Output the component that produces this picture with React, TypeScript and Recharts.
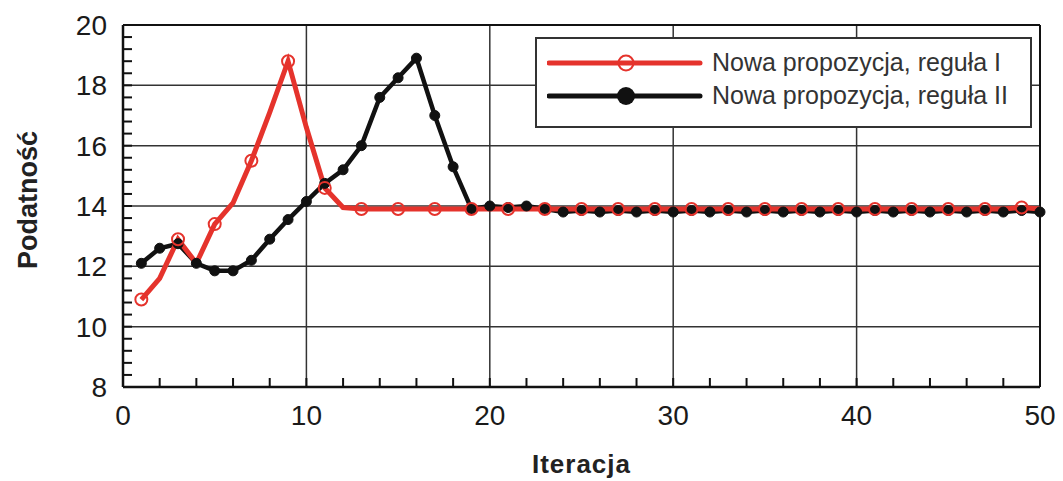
import { LineChart, Line, XAxis, YAxis, ReferenceLine, Legend } from 'recharts';

const iterations = [
  1, 2, 3, 4, 5, 6, 7, 8, 9, 10, 11, 12, 13, 14, 15, 16, 17, 18, 19, 20, 21, 22, 23, 24, 25,
  26, 27, 28, 29, 30, 31, 32, 33, 34, 35, 36, 37, 38, 39, 40, 41, 42, 43, 44, 45, 46, 47, 48, 49, 50,
];

const ruleOne = [
  10.9, 11.6, 12.9, 12.1, 13.4, 14.1, 15.5, 17.1, 18.8, 16.6, 14.6, 13.95, 13.9, 13.9, 13.9, 13.9, 13.9,
  13.9, 13.9, 13.9, 13.9, 13.9, 13.9, 13.9, 13.9, 13.9, 13.9, 13.9, 13.9, 13.9, 13.9, 13.9, 13.9, 13.9,
  13.9, 13.9, 13.9, 13.9, 13.9, 13.9, 13.9, 13.9, 13.9, 13.9, 13.9, 13.9, 13.9, 13.9, 13.95, 13.9,
];

const ruleTwo = [
  12.1, 12.6, 12.75, 12.1, 11.85, 11.85, 12.2, 12.9, 13.55, 14.15, 14.75, 15.2, 16.0, 17.6, 18.25, 18.9,
  17.0, 15.3, 13.9, 14.0, 13.95, 14.0, 13.9, 13.8, 13.85, 13.8, 13.85, 13.8, 13.85, 13.8, 13.85, 13.8,
  13.85, 13.8, 13.85, 13.8, 13.85, 13.8, 13.85, 13.8, 13.85, 13.8, 13.85, 13.8, 13.85, 13.8, 13.85,
  13.8, 13.85, 13.8,
];

const seriesNames = ['Nowa propozycja, reguła I', 'Nowa propozycja, reguła II'];
const xMajor = [10, 20, 30, 40];
const yMajor = [10, 12, 14, 16, 18];
const xTicks = [0, 2, 4, 6, 8, 10, 12, 14, 16, 18, 20, 22, 24, 26, 28, 30, 32, 34, 36, 38, 40, 42, 44, 46, 48, 50];
const yTicks = Array.from({ length: 31 }, (_, i) => Math.round((8 + i * 0.4) * 10) / 10);

const data = iterations.map((it, i) => ({ it, r1: ruleOne[i], r2: ruleTwo[i] }));

const RED = '#e5332c';
const BLACK = '#111';
const FONT = '"Liberation Sans", Arial, sans-serif';

const XTick = ({ x, y, payload }: any) =>
  payload.value % 10 === 0 ? (
    <text x={x} y={y} dy="0.71em" textAnchor="middle" fill="#1a1a1a" fontSize={28} fontFamily={FONT}>
      {payload.value}
    </text>
  ) : null;

const YTick = ({ x, y, payload }: any) => {
  const v = payload.value;
  if (Math.abs(v - Math.round(v)) > 1e-6 || Math.round(v) % 2 !== 0) return null;
  return (
    <text x={x} y={y} dy="0.36em" textAnchor="end" fill="#1a1a1a" fontSize={28} fontFamily={FONT}>
      {Math.round(v)}
    </text>
  );
};

const RedDot = (props: any) => {
  const { cx, cy, payload } = props;
  if (payload.it % 2 === 0) return <g key={props.key ?? payload.it} />;
  return <circle key={props.key ?? payload.it} cx={cx} cy={cy} r={6} fill="none" stroke={RED} strokeWidth={2} />;
};

const renderLegend = () => (
  <div
    style={{
      boxSizing: 'border-box',
      width: '100%',
      height: '100%',
      border: '2px solid #333',
      background: '#fff',
      padding: '7px 0 0 10px',
      fontFamily: FONT,
      fontSize: 25,
      color: '#333',
    }}
  >
    {seriesNames.map((name, i) => (
      <div key={name} style={{ display: 'flex', alignItems: 'center', height: 33, whiteSpace: 'nowrap' }}>
        <svg width={165} height={24}>
          <line x1={2} y1={12} x2={153} y2={12} stroke={i === 0 ? RED : BLACK} strokeWidth={5} strokeLinecap="round" />
          {i === 0 ? (
            <circle cx={79} cy={12} r={7.5} fill="none" stroke={RED} strokeWidth={2} />
          ) : (
            <circle cx={79} cy={12} r={9} fill={BLACK} />
          )}
        </svg>
        <span>{name}</span>
      </div>
    ))}
  </div>
);

export default function App() {
  return (
    <LineChart width={1055} height={473} data={data} margin={{ top: 17, right: 23, left: 0, bottom: 0 }}>
      {xMajor.map((v) => (
        <ReferenceLine key={'x' + v} x={v} stroke="#333" strokeWidth={1.5} />
      ))}
      {yMajor.map((v) => (
        <ReferenceLine key={'y' + v} y={v} stroke="#333" strokeWidth={1.5} />
      ))}
      <ReferenceLine y={20} stroke={BLACK} strokeWidth={2} />
      <ReferenceLine x={50} stroke={BLACK} strokeWidth={2} />
      <XAxis
        dataKey="it"
        type="number"
        domain={[0, 50]}
        ticks={xTicks}
        interval={0}
        height={94}
        tickSize={-9}
        tickMargin={27}
        tick={XTick}
        axisLine={{ stroke: BLACK, strokeWidth: 2.5 }}
        tickLine={{ stroke: BLACK, strokeWidth: 2 }}
        label={{
          content: ({ viewBox }: any) => (
            <text
              x={viewBox.x + viewBox.width / 2}
              y={viewBox.y + 86}
              textAnchor="middle"
              fontSize={26}
              fontWeight="bold"
              letterSpacing={1}
              fill="#222"
              fontFamily={FONT}
            >
              Iteracja
            </text>
          ),
        }}
      />
      <YAxis
        type="number"
        domain={[8, 20]}
        ticks={yTicks}
        interval={0}
        width={115}
        tickSize={-9}
        tickMargin={25}
        tick={YTick}
        axisLine={{ stroke: BLACK, strokeWidth: 2.5 }}
        tickLine={{ stroke: BLACK, strokeWidth: 2 }}
        label={{
          content: ({ viewBox }: any) => {
            const cx = viewBox.x + 20;
            const cy = viewBox.y + viewBox.height / 2 - 6;
            return (
              <text
                x={cx}
                y={cy}
                transform={`rotate(-90 ${cx} ${cy})`}
                textAnchor="middle"
                dominantBaseline="central"
                fontSize={27}
                fontWeight="bold"
                fill="#222"
                fontFamily={FONT}
              >
                Podatność
              </text>
            );
          },
        }}
      />
      <Line
        dataKey="r2"
        stroke={BLACK}
        strokeWidth={4.5}
        dot={{ r: 5, fill: BLACK, stroke: BLACK, strokeWidth: 1 }}
        isAnimationActive={false}
      />
      <Line dataKey="r1" stroke={RED} strokeWidth={5} dot={RedDot} isAnimationActive={false} />
      <Legend
        layout="vertical"
        align="center"
        verticalAlign="middle"
        content={renderLegend}
        wrapperStyle={{ top: 29, left: 527, width: 497, height: 91 }}
      />
    </LineChart>
  );
}
